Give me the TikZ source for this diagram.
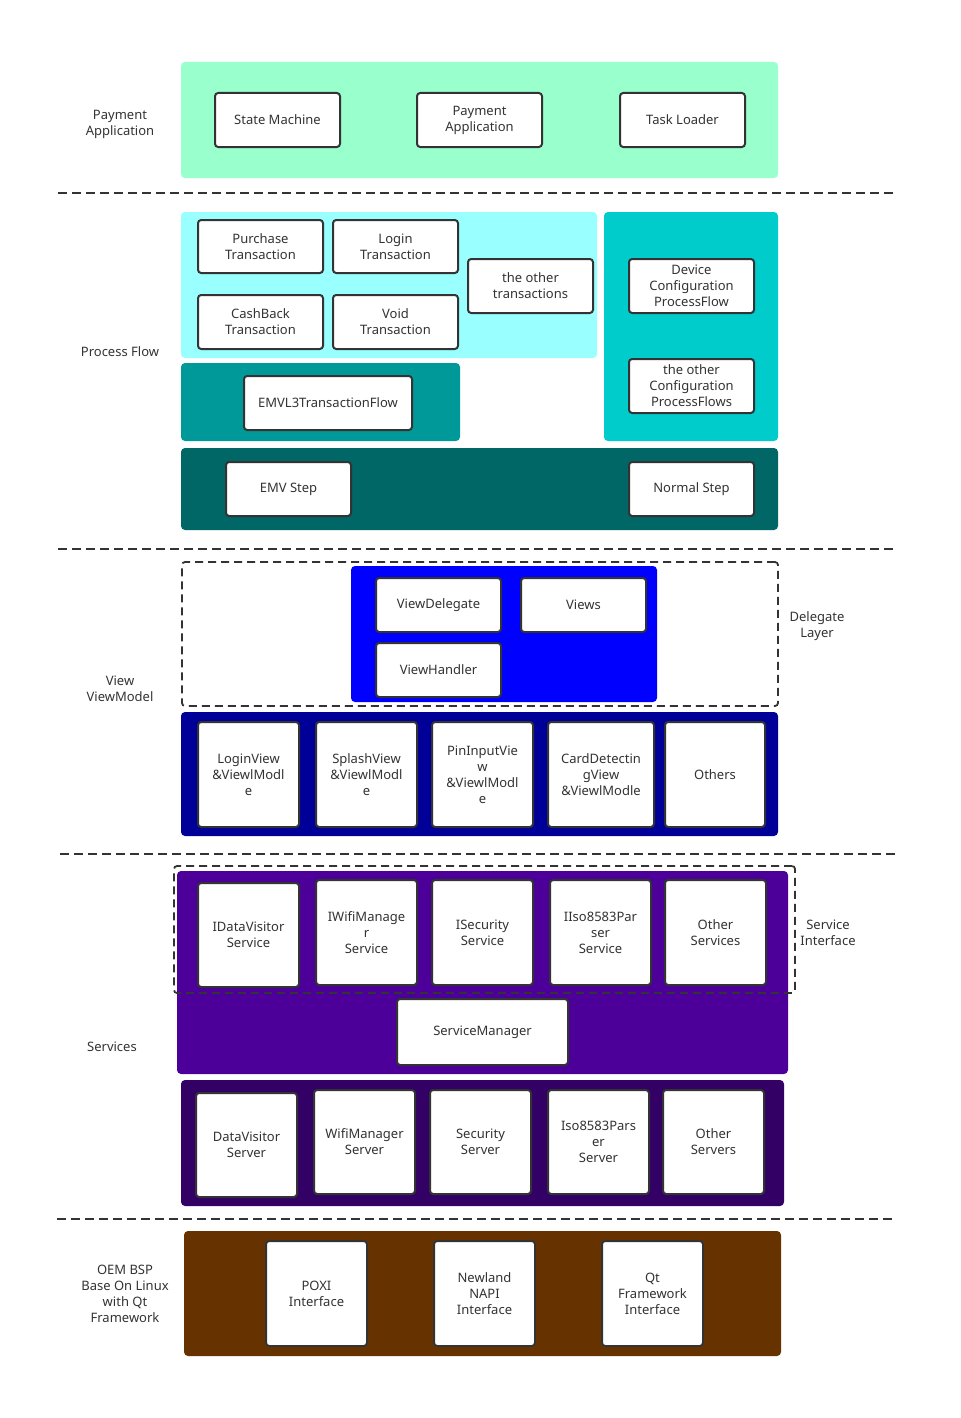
\documentclass[tikz,border=0pt]{standalone}
\usepackage{fontspec}
\setmainfont{Noto Sans}
\definecolor{ink}{HTML}{333333}
\definecolor{cMint}{HTML}{99FFCC}
\definecolor{cAqua}{HTML}{99FFFF}
\definecolor{cTeal}{HTML}{009999}
\definecolor{cCyan}{HTML}{00CCCC}
\definecolor{cDeep}{HTML}{006666}
\definecolor{cBlue}{HTML}{0000FF}
\definecolor{cNavy}{HTML}{000099}
\definecolor{cPurple}{HTML}{4C0099}
\definecolor{cPlum}{HTML}{330066}
\definecolor{cBrown}{HTML}{663300}
\tikzset{
  panel/.style={fill=#1, draw=none, rounded corners=2pt, inner sep=0pt},
  box/.style={draw=ink, line width=1pt, fill=white, rounded corners=1.6pt,
    inner sep=0pt, align=center, text=ink,
    font=\fontsize{6.5}{8}\selectfont},
  lbl/.style={align=center, text=ink, inner sep=0pt,
    font=\fontsize{6.5}{8}\selectfont},
  sep/.style={draw=ink, line width=1pt, dash pattern=on 4.5pt off 2.5pt},
  frame/.style={draw=ink, line width=0.9pt, dash pattern=on 4pt off 2.5pt,
    rounded corners=1.5pt, inner sep=0pt}
}
% \region[style]{name}{x1}{y1}{x2}{y2}{text}: a node spanning the given corners
\newcommand\region[7][box]{%
  \node[#1, minimum width={(#5-#3)*0.5pt}, minimum height={(#6-#4)*0.5pt}]
    (#2) at ({(#3+#5)/2},{(#4+#6)/2}) {#7};}
\begin{document}
\begin{tikzpicture}[x=0.5pt, y=-0.5pt]
\useasboundingbox (0,0) rectangle (960,1418);

% ---------- Payment application layer ----------
\region[panel=cMint]{appPanel}{181}{62}{778}{178}{}
\region{sm}{215}{93}{340}{147}{State Machine}
\region{pa}{417}{93}{542}{147}{Payment\\Application}
\region{tl}{620}{93}{745}{147}{Task Loader}
\node[lbl] (lApp) at (120,124) {Payment\\Application};

\coordinate (s1a) at (58,193); \coordinate (s1b) at (895,193);
\draw[sep] (s1a) -- (s1b);

% ---------- Process flow layer ----------
\region[panel=cAqua]{txPanel}{181}{212}{597}{358}{}
\region[panel=cTeal]{emvPanel}{181}{363}{460}{441}{}
\region[panel=cCyan]{cfgPanel}{604}{212}{778}{441}{}
\region[panel=cDeep]{stepPanel}{181}{448}{778}{530}{}
\region{pur}{198}{220}{323}{273}{Purchase\\Transaction}
\region{login}{333}{220}{458}{273}{Login\\Transaction}
\region{cash}{198}{295}{323}{349}{CashBack\\Transaction}
\region{void}{333}{295}{458}{349}{Void\\Transaction}
\region{otx}{468}{259}{593}{313}{the other\\transactions}
\region{emvl3}{244}{376}{412}{430}{EMVL3TransactionFlow}
\region{dev}{629}{259}{754}{313}{Device\\Configuration\\ProcessFlow}
\region{ocfg}{629}{359}{754}{413}{the other\\Configuration\\ProcessFlows}
\region{emvs}{226}{462}{351}{516}{EMV Step}
\region{norm}{629}{462}{754}{516}{Normal Step}
\node[lbl] (lPF) at (120,352) {Process Flow};

\coordinate (s2a) at (58,549); \coordinate (s2b) at (895,549);
\draw[sep] (s2a) -- (s2b);

% ---------- View / ViewModel layer ----------
\region[frame]{delFrame}{182}{562}{778}{706}{}
\region[panel=cBlue]{delPanel}{351}{566}{657}{702}{}
\region{vd}{376}{578}{501}{632}{ViewDelegate}
\region{views}{521}{578}{646}{632}{Views}
\region{vh}{376}{643}{501}{697}{ViewHandler}
\node[lbl] (lDel) at (817,626) {Delegate\\Layer};
\region[panel=cNavy]{vmPanel}{181}{712}{778}{836}{}
\region{lv}{198}{722}{299}{827}{LoginView\\\&ViewlModl\\e}
\region{sv}{316}{722}{417}{827}{SplashView\\\&ViewlModl\\e}
\region{piv}{432}{722}{533}{827}{PinInputVie\\w\\\&ViewlModl\\e}
\region{cdv}{548}{722}{654}{827}{CardDetectin\\gView\\\&ViewlModle}
\region{oth}{665}{722}{765}{827}{Others}
\node[lbl] (lVM) at (120,689) {View\\ViewModel};

\coordinate (s3a) at (60,854); \coordinate (s3b) at (896,854);
\draw[sep] (s3a) -- (s3b);

% ---------- Services layer ----------
\region[panel=cPurple]{svcPanel}{177}{871}{788}{1074}{}
\region[frame]{ifFrame}{174}{866}{795}{993}{}
\region{idv}{198}{883}{299}{987}{IDataVisitor\\Service}
\region{iwm}{316}{880}{417}{985}{IWifiManage\\r\\Service}
\region{isec}{432}{880}{533}{985}{ISecurity\\Service}
\region{iiso}{550}{880}{651}{985}{IIso8583Par\\ser\\Service}
\region{osvc}{665}{880}{766}{985}{Other\\Services}
\region{smgr}{397}{999}{568}{1065}{ServiceManager}
\node[lbl] (lSI) at (828,933) {Service\\Interface};
\node[lbl] (lSvc) at (112,1047) {Services};
\region[panel=cPlum]{srvPanel}{181}{1080}{784}{1206}{}
\region{dvs}{196}{1093}{297}{1197}{DataVisitor\\Server}
\region{wms}{314}{1090}{415}{1194}{WifiManager\\Server}
\region{secs}{430}{1090}{531}{1194}{Security\\Server}
\region{isos}{548}{1090}{649}{1194}{Iso8583Pars\\er\\Server}
\region{osrv}{663}{1090}{764}{1194}{Other\\Servers}

\coordinate (s4a) at (57,1219); \coordinate (s4b) at (893,1219);
\draw[sep] (s4a) -- (s4b);

% ---------- OEM BSP layer ----------
\region[panel=cBrown]{bspPanel}{184}{1231}{781}{1356}{}
\region{poxi}{266}{1241}{367}{1346}{POXI\\Interface}
\region{napi}{434}{1241}{535}{1346}{Newland\\NAPI\\Interface}
\region{qtf}{602}{1241}{703}{1346}{Qt\\Framework\\Interface}
\node[lbl] (lBSP) at (125,1294) {OEM BSP\\Base On Linux\\with Qt\\Framework};
\end{tikzpicture}
\end{document}
